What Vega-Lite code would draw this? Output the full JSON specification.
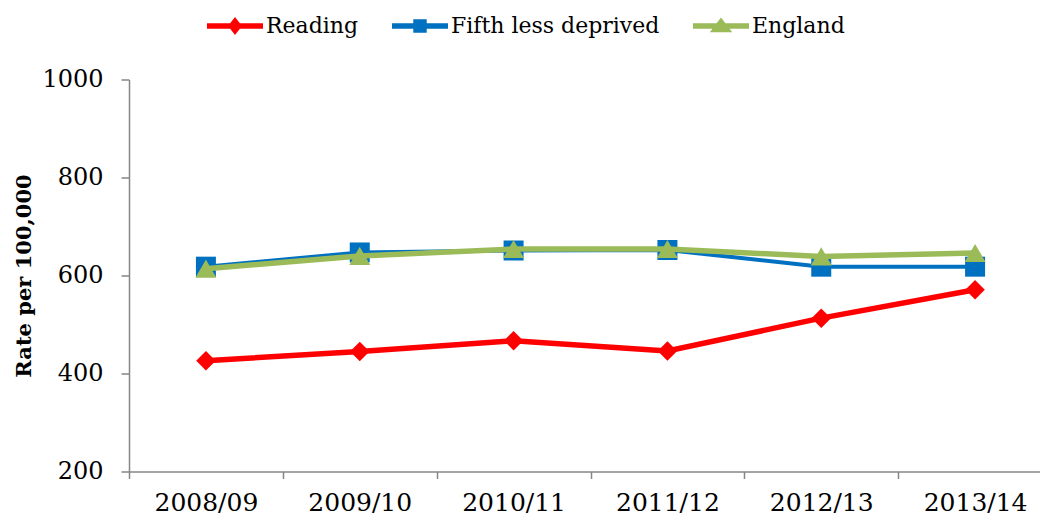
{
  "$schema": "https://vega.github.io/schema/vega-lite/v6.json",
  "width": 911,
  "height": 392,
  "autosize": {"type": "none"},
  "padding": {"left": 129, "top": 79.5, "right": 0, "bottom": 44.5},
  "background": "white",
  "config": {"view": {"stroke": null}, "font": "DejaVu Serif"},
  "data": {
    "values": [
      {"year": "2008/09", "series": "Reading", "value": 426},
      {"year": "2009/10", "series": "Reading", "value": 445},
      {"year": "2010/11", "series": "Reading", "value": 467},
      {"year": "2011/12", "series": "Reading", "value": 446},
      {"year": "2012/13", "series": "Reading", "value": 513},
      {"year": "2013/14", "series": "Reading", "value": 571},
      {"year": "2008/09", "series": "Fifth less deprived", "value": 618},
      {"year": "2009/10", "series": "Fifth less deprived", "value": 647},
      {"year": "2010/11", "series": "Fifth less deprived", "value": 651},
      {"year": "2011/12", "series": "Fifth less deprived", "value": 652},
      {"year": "2012/13", "series": "Fifth less deprived", "value": 618},
      {"year": "2013/14", "series": "Fifth less deprived", "value": 618},
      {"year": "2008/09", "series": "England", "value": 614},
      {"year": "2009/10", "series": "England", "value": 640},
      {"year": "2010/11", "series": "England", "value": 654},
      {"year": "2011/12", "series": "England", "value": 654},
      {"year": "2012/13", "series": "England", "value": 639},
      {"year": "2013/14", "series": "England", "value": 646}
    ]
  },
  "encoding": {
    "x": {
      "field": "year",
      "type": "ordinal",
      "sort": null,
      "scale": {"type": "band", "paddingInner": 0, "paddingOuter": 0, "range": [0, 923]},
      "axis": {
        "title": null,
        "tickBand": "extent",
        "labelAngle": 0,
        "tickSize": 7,
        "labelPadding": 12,
        "labelFont": "DejaVu Serif",
        "labelFontSize": 25,
        "labelColor": "#000000",
        "domainColor": "#868686",
        "domainWidth": 1.5,
        "tickColor": "#868686",
        "tickWidth": 1.5,
        "grid": false
      }
    },
    "y": {
      "field": "value",
      "type": "quantitative",
      "scale": {"domain": [200, 1000], "nice": false, "zero": false},
      "axis": {
        "values": [200, 400, 600, 800, 1000],
        "format": "d",
        "grid": false,
        "title": "Rate per 100,000",
        "titleFont": "DejaVu Serif",
        "titleFontWeight": "bold",
        "titleFontSize": 21,
        "titleColor": "#000000",
        "titleX": -105,
        "titleY": 196,
        "titleAngle": 270,
        "titleAlign": "center",
        "titleBaseline": "middle",
        "labelFont": "DejaVu Serif",
        "labelFontSize": 24,
        "labelColor": "#000000",
        "labelPadding": 18,
        "tickSize": 8,
        "domainColor": "#868686",
        "domainWidth": 1.5,
        "tickColor": "#868686",
        "tickWidth": 1.5
      }
    },
    "color": {
      "field": "series",
      "type": "nominal",
      "scale": {
        "domain": ["Reading", "Fifth less deprived", "England"],
        "range": ["#FF0000", "#0070C0", "#9BBB59"]
      },
      "legend": {
        "orient": "none",
        "legendX": 78,
        "legendY": -81.5,
        "direction": "horizontal",
        "title": null,
        "symbolSize": 3136,
        "symbolOpacity": 1,
        "symbolStrokeWidth": 0,
        "labelFont": "DejaVu Serif",
        "labelFontSize": 22,
        "labelLimit": 400,
        "labelColor": "#000000",
        "labelOffset": 3,
        "columnPadding": 33,
        "padding": 0
      }
    }
  },
  "layer": [
    {
      "transform": [{"filter": "datum.series === 'Reading'"}],
      "mark": {"type": "line", "strokeWidth": 5.5}
    },
    {
      "transform": [{"filter": "datum.series === 'Reading'"}],
      "mark": {"type": "point", "shape": "diamond", "filled": true, "size": 380, "opacity": 1}
    },
    {
      "transform": [{"filter": "datum.series === 'Fifth less deprived'"}],
      "mark": {"type": "line", "strokeWidth": 4}
    },
    {
      "transform": [{"filter": "datum.series === 'Fifth less deprived'"}],
      "mark": {"type": "point", "shape": "square", "filled": true, "size": 400, "opacity": 1}
    },
    {
      "transform": [{"filter": "datum.series === 'England'"}],
      "mark": {"type": "line", "strokeWidth": 5.5}
    },
    {
      "transform": [{"filter": "datum.series === 'England'"}],
      "mark": {"type": "point", "shape": "triangle-up", "filled": true, "size": 440, "opacity": 1}
    },
    {
      "mark": {"type": "point", "filled": true, "opacity": 0},
      "encoding": {
        "shape": {
          "field": "series",
          "type": "nominal",
          "scale": {
            "domain": ["Reading", "Fifth less deprived", "England"],
            "range": [
              "M-1,-0.1L1,-0.1L1,0.1L-1,0.1ZM0,-0.32L0.25,0L0,0.32L-0.25,0Z",
              "M-1,-0.1L1,-0.1L1,0.1L-1,0.1ZM-0.24,-0.24L0.24,-0.24L0.24,0.24L-0.24,0.24Z",
              "M-1,-0.1L1,-0.1L1,0.1L-1,0.1ZM0,-0.3L0.4,0.22L-0.4,0.22Z"
            ]
          },
          "legend": {
            "orient": "none",
            "legendX": 78,
            "legendY": -81.5,
            "direction": "horizontal",
            "title": null,
            "symbolSize": 3136,
            "symbolOpacity": 1,
            "symbolStrokeWidth": 0,
            "labelFont": "DejaVu Serif",
            "labelFontSize": 22,
            "labelLimit": 400,
            "labelColor": "#000000",
            "labelOffset": 3,
            "columnPadding": 33,
            "padding": 0
          }
        }
      }
    }
  ]
}
